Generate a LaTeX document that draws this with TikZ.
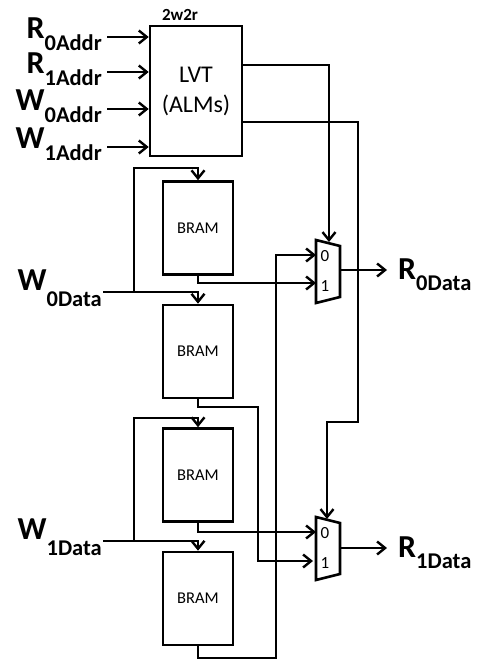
\documentclass[tikz,border=0pt]{standalone}
\usepackage{fontspec}
\setmainfont{Carlito}
\usetikzlibrary{arrows.meta}
\newcommand{\sigl}[3]{{\fontsize{32}{32}\selectfont\bfseries #1}\raisebox{-#3pt}{\fontsize{22.5}{22.5}\selectfont\bfseries #2}}
\begin{document}
\begin{tikzpicture}[x=1pt,y=-1pt,
  wire/.style={line width=2.6pt},
  arr/.style={wire,-{Straight Barb[length=8pt,width=13pt,line width=2.4pt]}},
  bram/.style={draw,line width=2.6pt,minimum width=70pt,minimum height=93pt,inner sep=0pt,font=\fontsize{16.5}{16.5}\selectfont},
  lvtbox/.style={draw,line width=2.6pt,minimum width=92pt,minimum height=130pt,inner sep=0pt,align=center,font=\fontsize{24}{30}\selectfont},
  muxshape/.style={draw,line width=2.6pt,line join=miter},
  muxlab/.style={inner sep=0pt,font=\fontsize{17}{17}\selectfont},
  siglab/.style={inner sep=0pt}]
\useasboundingbox (0,0) rectangle (477,663);

% LVT
\node[lvtbox] (lvt) at (196,91) {LVT\\(ALMs)};
\node[inner sep=0pt,font=\bfseries\fontsize{17}{17}\selectfont] (tag) at (180,15) {2w2r};

% address inputs
\node[siglab,anchor=base east] (r0a) at (102,39) {\sigl{R}{0Addr}{12}};
\node[siglab,anchor=base east] (r1a) at (102,74) {\sigl{R}{1Addr}{12}};
\node[siglab,anchor=base east] (w0a) at (102,111) {\sigl{W}{0Addr}{12}};
\node[siglab,anchor=base east] (w1a) at (102,149) {\sigl{W}{1Addr}{12}};
\coordinate (a0) at (107,37);
\coordinate (a1) at (107,72);
\coordinate (a2) at (107,109);
\coordinate (a3) at (107,147);
\draw[arr] (a0) -- (a0 -| lvt.west);
\draw[arr] (a1) -- (a1 -| lvt.west);
\draw[arr] (a2) -- (a2 -| lvt.west);
\draw[arr] (a3) -- (a3 -| lvt.west);

% BRAMs
\node[bram] (b1) at (198,228) {BRAM};
\node[bram] (b2) at (198,351.5) {BRAM};
\node[bram] (b3) at (198,475) {BRAM};
\node[bram] (b4) at (198,598.5) {BRAM};

% muxes
\coordinate (m0) at (316,240);
\coordinate (m1) at (316,517);
\draw[muxshape] (m0) -- ++(24,6) -- ++(0,51) -- ++(-24,6) -- cycle;
\draw[muxshape] (m1) -- ++(24,6) -- ++(0,51) -- ++(-24,6) -- cycle;
\node[muxlab] (m0l0) at (325,256) {0};
\node[muxlab] (m0l1) at (325,286) {1};
\node[muxlab] (m1l0) at (325,533) {0};
\node[muxlab] (m1l1) at (325,563) {1};
\coordinate (m0in0) at (316,255);
\coordinate (m0in1) at (316,283);
\coordinate (m0sel) at (329,242);
\coordinate (m0out) at (340,270);
\coordinate (m1in0) at (316,532);
\coordinate (m1in1) at (313,561);
\coordinate (m1sel) at (327,519);
\coordinate (m1out) at (340,548);

% write data inputs
\node[siglab,anchor=base east] (w0d) at (102,290) {\sigl{W}{0Data}{16}};
\node[siglab,anchor=base east] (w1d) at (102,539) {\sigl{W}{1Data}{16}};
\coordinate (w0s) at (103,292);
\coordinate (w1s) at (103,541);
\coordinate (w0br) at (134,292);
\coordinate (w1br) at (134,541);
\coordinate (w0top) at (134,168);
\coordinate (w1top) at (134,418);
\draw[arr] (w0s) -| (b2.north);
\draw[arr] (w0br) -- (w0top) -| (b1.north);
\draw[arr] (w1s) -| (b3.north |- b4.north);
\draw[arr] (w1br) -- (w1top) -| (b3.north);

% LVT selects
\coordinate (lo1) at (242,65);
\coordinate (lo2) at (242,122);
\coordinate (s1a) at (358,422);
\draw[arr] (lo1) -| (m0sel);
\draw[arr] (lo2) -| (s1a) -| (m1sel);

% BRAM outputs
\coordinate (b2r) at (258,407);
\coordinate (b4r) at (276,658);
\draw[arr] (b1.south) |- (m0in1);
\draw[arr] (b2.south) |- (b2r) |- (m1in1);
\draw[arr] (b3.south) |- (m1in0);
\draw[arr] (b4.south) |- (b4r) |- (m0in0);

% read outputs
\coordinate (r0e) at (387,270);
\coordinate (r1e) at (387,548);
\draw[arr] (m0out) -- (r0e);
\draw[arr] (m1out) -- (r1e);
\node[siglab,anchor=base west] (r0d) at (398,279) {\sigl{R}{0Data}{11}};
\node[siglab,anchor=base west] (r1d) at (398,557) {\sigl{R}{1Data}{11}};
\end{tikzpicture}
\end{document}
